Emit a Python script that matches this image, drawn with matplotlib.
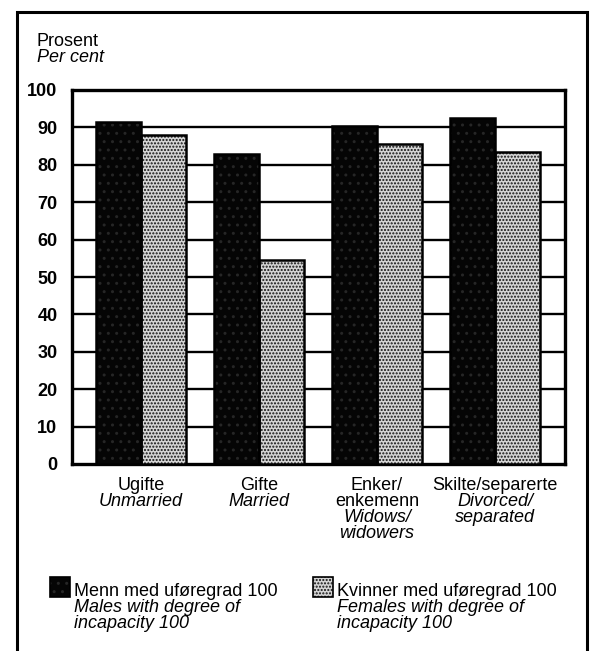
import matplotlib
matplotlib.use("Agg")
import matplotlib.pyplot as plt
from matplotlib.patches import Rectangle
from matplotlib.transforms import blended_transform_factory

plt.rcParams['font.family'] = ['Liberation Sans', 'DejaVu Sans']
plt.rcParams['hatch.linewidth'] = 1.0

# ---------------- data ----------------
cat_no = ["Ugifte", "Gifte", "Enker/\nenkemenn", "Skilte/separerte"]
cat_en = ["Unmarried", "Married", "Widows/\nwidowers", "Divorced/\nseparated"]
males = [91.5, 83, 90.5, 92.5]
females = [88, 54.5, 85.5, 83.5]
yticks = [0, 10, 20, 30, 40, 50, 60, 70, 80, 90, 100]

leg_no = ["Menn med uføregrad 100", "Kvinner med uføregrad 100"]
leg_en = ["Males with degree of\nincapacity 100", "Females with degree of\nincapacity 100"]

W, H = 590, 651
fig = plt.figure(figsize=(W / 100, H / 100), dpi=100)


def fx(px):
    return px / W


def fy(py):
    return 1 - py / H


male_style = dict(facecolor='#050505', edgecolor='#262626', hatch='..')
female_style = dict(facecolor='#d4d4d4', edgecolor='#111111', hatch='.....')

# outer frame
fig.patches.append(Rectangle((fx(17), fy(665)), fx(587) - fx(17), fy(12) - fy(665),
                             transform=fig.transFigure, fill=False,
                             edgecolor='black', linewidth=2.2, zorder=0))

ax = fig.add_axes([fx(72), fy(464), fx(565) - fx(72), fy(90) - fy(464)])

x = list(range(len(cat_no)))
bw = 0.38
ax.bar([i - bw / 2 for i in x], males, width=bw, linewidth=0, zorder=3, **male_style)
ax.bar([i + bw / 2 for i in x], females, width=bw, linewidth=0, zorder=3, **female_style)
# black outlines on top of the hatching
ax.bar([i - bw / 2 for i in x], males, width=bw, fill=False,
       edgecolor='black', linewidth=1.8, zorder=4)
ax.bar([i + bw / 2 for i in x], females, width=bw, fill=False,
       edgecolor='black', linewidth=1.8, zorder=4)

ax.set_xlim(-0.585, 3.593)
ax.set_ylim(0, 100)
ax.set_yticks(yticks)
ax.set_yticklabels([str(t) for t in yticks], fontsize=13, fontweight='bold')
ax.tick_params(axis='y', length=0, pad=10.5)
ax.set_xticks([])
for t in yticks[1:-1]:
    ax.axhline(t, color='black', linewidth=1.7, zorder=1)
for s in ax.spines.values():
    s.set_linewidth(2.4)

# category labels
tr = blended_transform_factory(ax.transData, fig.transFigure)
for i in x:
    lines = [(l, 'normal') for l in cat_no[i].split('\n')] + \
            [(l, 'italic') for l in cat_en[i].split('\n')]
    for k, (txt, st) in enumerate(lines):
        ax.text(i, fy(486 + 15.8 * k), txt, transform=tr, ha='center', va='center',
                fontsize=13, style=st, clip_on=False)

# y axis title
fig.text(fx(37), fy(42), "Prosent", fontsize=13, ha='left', va='center')
fig.text(fx(37), fy(58), "Per cent", fontsize=13, style='italic', ha='left', va='center')

# legend
sq_x = [50, 313]
styles = [male_style, female_style]
for j in range(2):
    fig.patches.append(Rectangle((fx(sq_x[j]), fy(597)), fx(20), 20 / H,
                                 transform=fig.transFigure, linewidth=0, **styles[j]))
    fig.patches.append(Rectangle((fx(sq_x[j]), fy(597)), fx(20), 20 / H,
                                 transform=fig.transFigure, fill=False,
                                 edgecolor='black', linewidth=1.2))
    lines = [(leg_no[j], 'normal')] + [(l, 'italic') for l in leg_en[j].split('\n')]
    for k, (txt, st) in enumerate(lines):
        fig.text(fx(sq_x[j] + 24), fy(592 + 15.5 * k), txt, fontsize=13, style=st,
                 ha='left', va='center')

fig.savefig("out.png", dpi=100)
